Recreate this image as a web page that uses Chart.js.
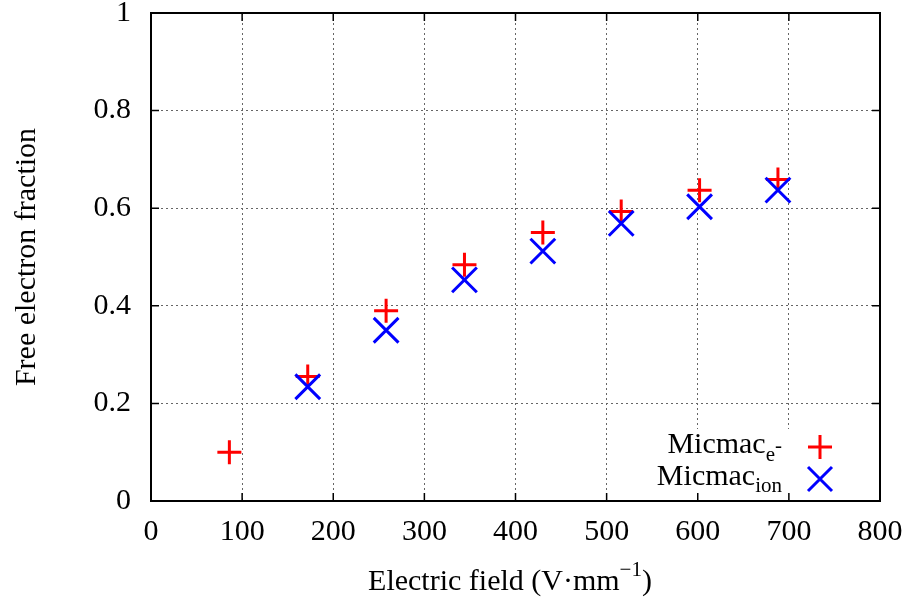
<!DOCTYPE html>
<html>
<head>
<meta charset="utf-8">
<script src="https://cdn.jsdelivr.net/npm/chart.js@4/dist/chart.umd.min.js"></script>
<style>
  body { margin: 0; background: #fff; }
  canvas { display: block; }
</style>
</head>
<body>
<canvas id="chart" width="910" height="603"></canvas>
<script>
'use strict';

// field strengths (V/mm) and free electron fractions
const fieldElectron = [86, 172, 258, 344, 430, 516, 602, 688];
const fracElectron = [0.100, 0.255, 0.390, 0.484, 0.550, 0.593, 0.637, 0.659];
const fieldIon = [172, 258, 344, 430, 516, 602, 688];
const fracIon = [0.234, 0.350, 0.453, 0.512, 0.569, 0.603, 0.637];

const xTicks = [0, 100, 200, 300, 400, 500, 600, 700, 800];
const yTicks = [0, 0.2, 0.4, 0.6, 0.8, 1];

const FONT = 'Liberation Serif';
const RED = '#ff0000';
const BLUE = '#0000ff';

const toPoints = (xs, ys) => xs.map((x, i) => ({ x: x, y: ys[i] }));

// draws a run of text pieces (with sub/superscripts)
function drawPieces(ctx, pieces, x, y, align) {
  let total = 0;
  pieces.forEach(p => {
    ctx.font = p.size + 'px "' + FONT + '"';
    p.w = ctx.measureText(p.t).width;
    total += p.w;
  });
  let cx = align === 'right' ? x - total : align === 'center' ? x - total / 2 : x;
  ctx.textAlign = 'left';
  ctx.textBaseline = 'alphabetic';
  pieces.forEach(p => {
    ctx.font = p.size + 'px "' + FONT + '"';
    ctx.fillText(p.t, cx, y + (p.dy || 0));
    cx += p.w;
  });
}

function drawPlus(ctx, x, y, r, color) {
  ctx.save();
  ctx.strokeStyle = color;
  ctx.lineWidth = 3;
  ctx.beginPath();
  ctx.moveTo(x - r, y); ctx.lineTo(x + r, y);
  ctx.moveTo(x, y - r); ctx.lineTo(x, y + r);
  ctx.stroke();
  ctx.restore();
}

function drawCross(ctx, x, y, r, color) {
  ctx.save();
  ctx.strokeStyle = color;
  ctx.lineWidth = 3;
  ctx.beginPath();
  ctx.moveTo(x - r, y - r); ctx.lineTo(x + r, y + r);
  ctx.moveTo(x - r, y + r); ctx.lineTo(x + r, y - r);
  ctx.stroke();
  ctx.restore();
}

const gnuplotFrame = {
  id: 'gnuplotFrame',
  beforeDatasetsDraw(chart) {
    // key box hides the grid behind it
    const ctx = chart.ctx;
    const a = chart.chartArea;
    ctx.save();
    ctx.fillStyle = '#fff';
    ctx.fillRect(640, 429, a.right - 640, a.bottom - 429);
    ctx.restore();
  },
  afterDraw(chart) {
    const ctx = chart.ctx;
    const a = chart.chartArea;
    const xs = chart.scales.x;
    const ys = chart.scales.y;
    ctx.save();

    // inward tick marks on all four sides
    ctx.strokeStyle = '#000';
    ctx.lineWidth = 1.5;
    ctx.beginPath();
    xTicks.slice(1, -1).forEach(v => {
      const px = xs.getPixelForValue(v);
      ctx.moveTo(px, a.bottom); ctx.lineTo(px, a.bottom - 8);
      ctx.moveTo(px, a.top); ctx.lineTo(px, a.top + 8);
    });
    yTicks.slice(1, -1).forEach(v => {
      const py = ys.getPixelForValue(v);
      ctx.moveTo(a.left, py); ctx.lineTo(a.left + 8, py);
      ctx.moveTo(a.right, py); ctx.lineTo(a.right - 8, py);
    });
    ctx.stroke();

    // border
    ctx.lineWidth = 2;
    ctx.strokeRect(a.left, a.top, a.right - a.left, a.bottom - a.top);

    // key
    ctx.fillStyle = '#000';
    drawPieces(ctx, [
      { t: 'Micmac', size: 30 },
      { t: 'e', size: 21, dy: 8 },
      { t: '-', size: 21, dy: -1 }
    ], 782, 453, 'right');
    drawPieces(ctx, [
      { t: 'Micmac', size: 30 },
      { t: 'ion', size: 21, dy: 7 }
    ], 782, 485, 'right');
    drawPlus(ctx, 820, 447, 12, RED);
    drawCross(ctx, 820, 479, 12, BLUE);

    // axis titles
    drawPieces(ctx, [
      { t: 'Electric field (V·mm', size: 30 },
      { t: '−1', size: 21, dy: -14 },
      { t: ')', size: 30 }
    ], 510, 590, 'center');

    ctx.translate(35, (a.top + a.bottom) / 2);
    ctx.rotate(-Math.PI / 2);
    drawPieces(ctx, [{ t: 'Free electron fraction', size: 30 }], 0, 0, 'center');

    ctx.restore();
  }
};

function renderChart() {
  const ctx = document.getElementById('chart').getContext('2d');

  const chartData = {
    datasets: [{
      label: 'Micmac e-',
      data: toPoints(fieldElectron, fracElectron),
      pointStyle: 'cross',
      pointRadius: 12,
      pointHoverRadius: 12,
      borderColor: RED,
      backgroundColor: RED,
      borderWidth: 3,
      pointHoverBorderWidth: 3,
      order: 1
    },
    {
      label: 'Micmac ion',
      data: toPoints(fieldIon, fracIon),
      pointStyle: 'crossRot',
      pointRadius: 17.5,
      pointHoverRadius: 17.5,
      borderColor: BLUE,
      backgroundColor: BLUE,
      borderWidth: 3,
      pointHoverBorderWidth: 3,
      order: 0
    }]
  };

  const gridOpts = { color: '#666', lineWidth: 1, drawTicks: false };
  const noPad = s => { s.paddingTop = 0; s.paddingBottom = 0; s.paddingLeft = 0; s.paddingRight = 0; };

  const chartOptions = {
    responsive: false,
    animation: false,
    devicePixelRatio: 1,
    layout: { autoPadding: false, padding: { top: 13, right: 30, left: 0, bottom: 0 } },
    plugins: { legend: { display: false }, tooltip: { enabled: false } },
    scales: {
      x: {
        type: 'linear',
        min: 0,
        max: 800,
        afterBuildTicks: s => { s.ticks = xTicks.map(v => ({ value: v })); },
        afterFit: s => { s.height = 102; noPad(s); },
        grid: gridOpts,
        border: { display: false, dash: [2, 3] },
        ticks: { font: { family: FONT, size: 30 }, color: '#000', padding: 13, maxRotation: 0 }
      },
      y: {
        type: 'linear',
        min: 0,
        max: 1,
        afterBuildTicks: s => { s.ticks = yTicks.map(v => ({ value: v })); },
        afterFit: s => { s.width = 151; noPad(s); },
        grid: gridOpts,
        border: { display: false, dash: [2, 3] },
        ticks: {
          font: { family: FONT, size: 30 },
          color: '#000',
          padding: 20,
          callback: v => String(+v.toFixed(1))
        }
      }
    }
  };

  new Chart(ctx, {
    type: 'scatter',
    data: chartData,
    options: chartOptions,
    plugins: [gnuplotFrame]
  });
}

renderChart();
</script>
</body>
</html>
